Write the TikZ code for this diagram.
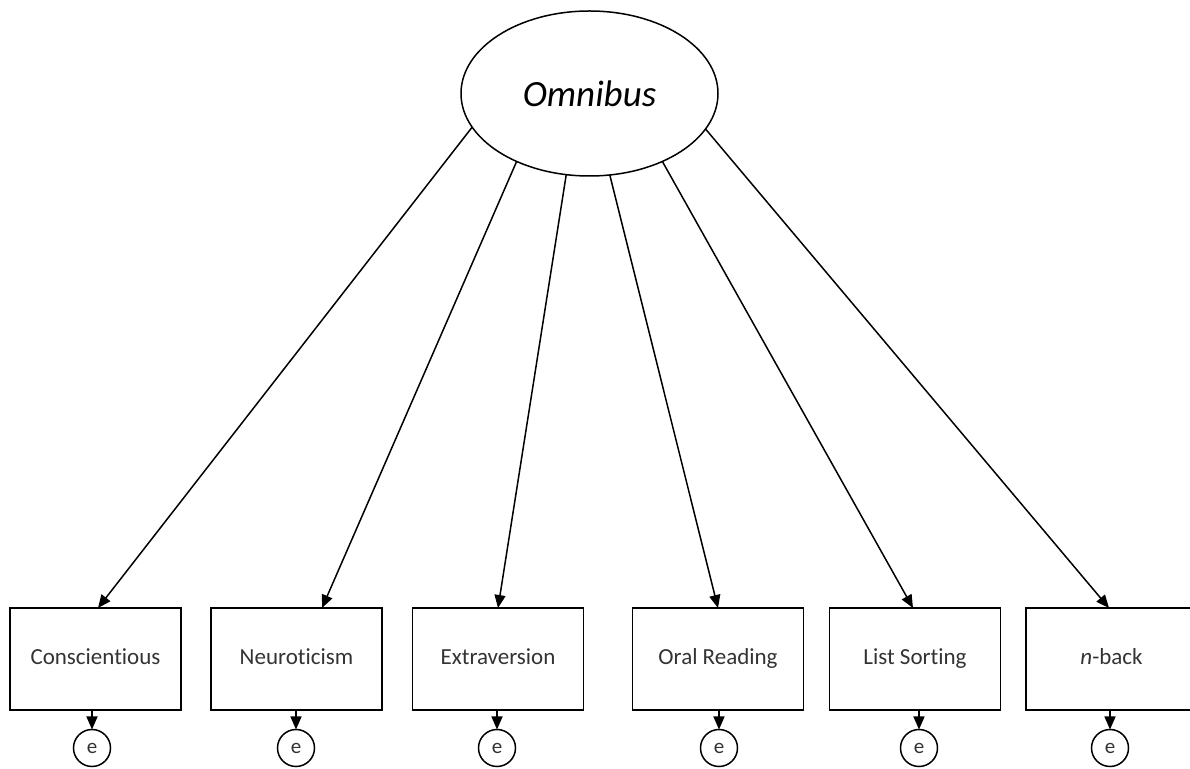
\documentclass[tikz,border=0pt]{standalone}
\usepackage{fontspec}
\setmainfont[Ligatures=CommonOff]{Carlito}
\usepackage{tikz}
\usetikzlibrary{arrows.meta,shapes.geometric}

\tikzset{
    latent/.style={draw, ellipse, line width=0.75pt, inner sep=0pt, outer sep=0pt,
        minimum width=128.5pt, minimum height=82.5pt, font=\fontsize{18.5}{22}\selectfont\itshape},
    obs/.style={draw, rectangle, line width=0.75pt, inner sep=0pt, outer sep=0pt,
        minimum width=85.5pt, minimum height=51pt, text height=8pt, text depth=2.5pt,
        text=black!80, font=\fontsize{11.5}{14}\selectfont},
    err/.style={draw, circle, line width=0.75pt, inner sep=0pt, outer sep=0pt,
        minimum size=18.5pt, text=black!80, font=\fontsize{10.5}{12}\selectfont},
    load/.style={line width=0.75pt, -{Triangle[length=6.5pt,width=5.5pt]}}
}

\begin{document}
\begin{tikzpicture}[x=0.5pt, y=-0.5pt]
        \useasboundingbox (0,0) rectangle (1190,769);

        \node[latent] (omni) at (589.5,93.5) {Omnibus};

        % indicators
        \foreach \i/\x/\txt in {1/95.5/Conscientious, 2/296.5/Neuroticism, 3/498/Extraversion,
                                4/718/Oral Reading, 5/915/List Sorting, 6/1111.5/{\textit{n}-back}} {
            \node[obs] (b\i) at (\x,659) {\txt};
        }

        % residuals
        \foreach \i/\x in {1/92, 2/296, 3/497, 4/719, 5/919, 6/1110} {
            \node[err] (e\i) at (\x,748) {e};
            \draw[load] (e\i |- b\i.south) -- (e\i);
        }

        % loadings
        \foreach \i/\a/\s in {1/196.4/1.25pt, 2/223/12.75pt, 3/254.7/0pt, 4/284/0pt, 5/317.4/-1pt, 6/343.8/-1.25pt} {
            \draw[load] (omni.\a) -- ([xshift=\s]b\i.north);
        }
    \end{tikzpicture}
\end{document}
